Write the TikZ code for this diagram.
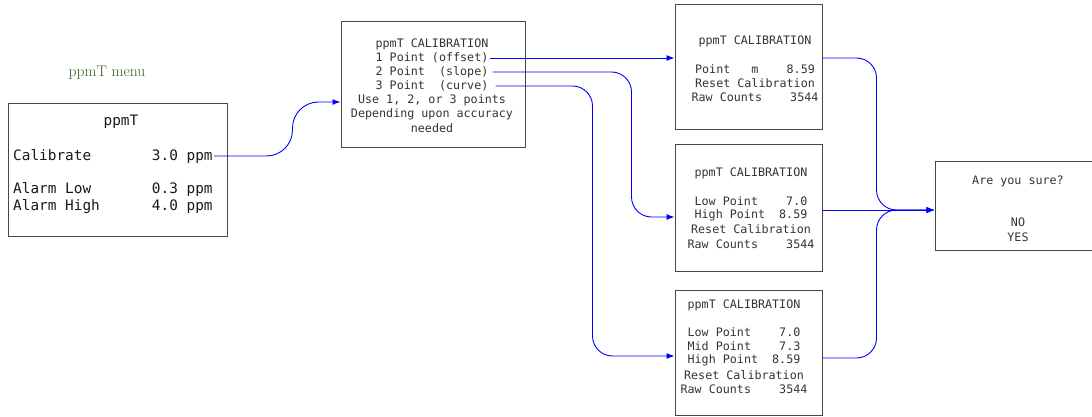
\documentclass[tikz,border=0pt]{standalone}
\usepackage{fontspec}
\setmonofont{DejaVu Sans Mono}
\usetikzlibrary{positioning,arrows.meta}

\definecolor{menugreen}{HTML}{3A5E22}

\tikzset{
    screen/.style={draw=black!72, line width=1pt, inner sep=0pt},
    line/.style={font=\ttfamily\fontsize{11.7}{14}\selectfont, text=black!80, inner sep=1pt},
    bigline/.style={font=\ttfamily\fontsize{14.4}{17}\selectfont, text=black!90, inner sep=1pt},
    flow/.style={draw=blue, line width=0.9pt, -{Latex[length=8pt,width=6pt]}, rounded corners=20pt},
}

\begin{document}
\begin{tikzpicture}[x=1pt,y=-1pt]
    \useasboundingbox (0,0) rectangle (1092,417);
    \clip (0,0) rectangle (1092,417);

    % main menu screen
    \node[font=\fontsize{15.5}{18}\selectfont\addfontfeature{LetterSpace=5}, text=menugreen] (title) at (107,73) {ppmT menu};
    \node[screen, minimum width=219, minimum height=132] (menu) at (117.5,170) {};
    \node[bigline] (mhead) at (121,122) {ppmT};
    \foreach \y/\n/\t in {156/cal/{Calibrate~~~~~~~3.0 ppm},
                          189/low/{Alarm Low~~~~~~~0.3 ppm},
                          207/high/{Alarm High~~~~~~4.0 ppm}} {
        \node[bigline, anchor=west] (\n) at (12,\y) {\t};
    }

    % calibration choice
    \node[screen, minimum width=184, minimum height=126] (calib) at (433,85) {};
    \foreach \y/\n/\t in {44/chead/{ppmT CALIBRATION}, 58/opt1/{1 Point (offset)},
                          72/opt2/{2 Point~~(slope)}, 86/opt3/{3 Point~~(curve)},
                          100/c5/{Use 1, 2, or 3 points}, 114/c6/{Depending upon accuracy},
                          128/c7/{needed}} {
        \node[line] (\n) at (432,\y) {\t};
    }

    % one point
    \node[screen, minimum width=147, minimum height=125] (b1) at (748.5,67.5) {};
    \foreach \y/\n/\t in {41/a1/{ppmT CALIBRATION}, 69/a2/{Point~~~m~~~~8.59},
                          83/a3/{Reset Calibration}, 97/a4/{Raw Counts~~~~3544}} {
        \node[line] (\n) at (755,\y) {\t};
    }

    % two point
    \node[screen, minimum width=147, minimum height=126] (b2) at (748.5,208) {};
    \foreach \y/\n/\t in {173/d1/{ppmT CALIBRATION}, 201/d2/{Low Point~~~~7.0},
                          215/d3/{High Point~~8.59}, 229/d4/{Reset Calibration},
                          244/d5/{Raw Counts~~~~3544}} {
        \node[line] (\n) at (751,\y) {\t};
    }

    % three point
    \node[screen, minimum width=147, minimum height=125] (b3) at (748.5,352.5) {};
    \foreach \y/\n/\t in {305/e1/{ppmT CALIBRATION}, 332/e2/{Low Point~~~~7.0},
                          346/e3/{Mid Point~~~~7.3}, 360/e4/{High Point~~8.59},
                          375/e5/{Reset Calibration}, 389/e6/{Raw Counts~~~~3544}} {
        \node[line] (\n) at (744,\y) {\t};
    }

    % confirm
    \node[screen, minimum width=170, minimum height=89] (sure) at (1020,205.5) {};
    \node[line] (s1) at (1018,181) {Are you sure?};
    \node[line] (s2) at (1018,222) {NO};
    \node[line] (s3) at (1018,237) {YES};

    % connectors
    \draw[flow, rounded corners=26pt] (cal.east) -| ([xshift=-48pt,yshift=-17pt]calib.west) -- ([yshift=-17pt]calib.west);
    \draw[flow] (opt1.east) -- (opt1.east -| b1.west);
    \draw[flow] ([xshift=3pt]opt2.east) -| ([xshift=-43pt,yshift=-9pt]b2.west) -- ([yshift=-9pt]b2.west);
    \draw[flow] ([xshift=6pt]opt3.east) -| ([xshift=-82pt,yshift=-3.5pt]b3.west) -- ([yshift=-3.5pt]b3.west);
    \draw[flow] (b1.east |- opt1) -| ([xshift=-58pt,yshift=-4.5pt]sure.west) -- ([yshift=-4.5pt]sure.west);
    \draw[flow] ([yshift=-2pt]b2.east) -- ([yshift=-4.5pt]sure.west);
    \draw[flow] ([yshift=-5.5pt]b3.east) -| ([xshift=-58pt,yshift=-4.5pt]sure.west) -- ([yshift=-4.5pt]sure.west);
\end{tikzpicture}
\end{document}
